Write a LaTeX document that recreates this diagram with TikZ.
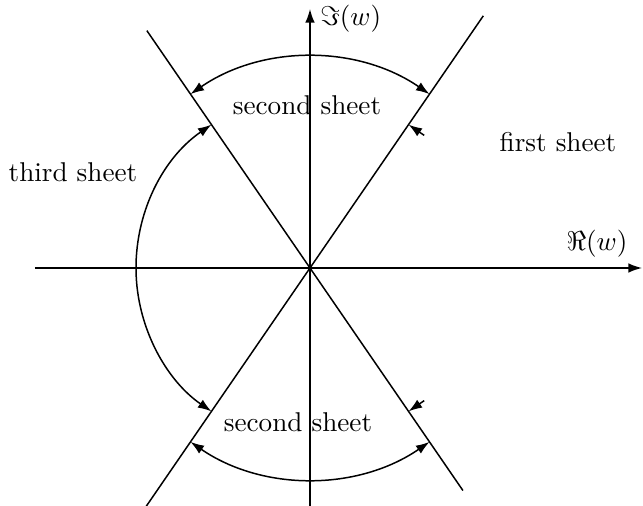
\documentclass[tikz,border=0pt]{standalone}
\usepackage{amsmath,amssymb}
\usetikzlibrary{arrows.meta,calc}

\begin{document}
\begin{tikzpicture}[x=0.368pt, y=0.368pt, font=\normalsize,
  ln/.style={line width=0.55pt, black},
  arr/.style={ln, -{Latex[length=5pt,width=3.5pt]}},
  darr/.style={ln, {Latex[length=5pt,width=3.5pt]}-{Latex[length=5pt,width=3.5pt]}}]
\useasboundingbox (-310,-238) rectangle (333,268);
\coordinate (O) at (0,0);
% axes
\coordinate (xl) at (-275,0);
\coordinate (xr) at (332,0);
\coordinate (yb) at (0,-240);
\coordinate (yt) at (0,259);
\draw[arr] (xl) -- (xr);
\draw[arr] (yb) -- (yt);
\node[anchor=west, inner sep=1pt] (im) at (7,249) {$\Im(w)$};
\node (re) at (287,24) {$\Re(w)$};
% cut lines
\coordinate (ul) at (124.5:288);
\coordinate (lr) at (-55.5:270);
\coordinate (ur) at (55.5:306);
\coordinate (ll) at (235.5:295);
\draw[ln] (ul) -- (lr);
\draw[ln] (ur) -- (ll);
% arcs
\draw[darr] (55.5:211) arc[start angle=55.5, end angle=124.5, radius=211];
\draw[darr] (124.5:174) arc[start angle=124.5, end angle=235.5, radius=174];
\draw[darr] (235.5:211) arc[start angle=235.5, end angle=304.5, radius=211];
% short arrows
\coordinate (pu) at (55.5:174);
\coordinate (pd) at (-55.5:174);
\draw[arr] ($(pu)+(-34.5:19)$) -- (pu);
\draw[arr] ($(pd)+(34.5:19)$) -- (pd);
% labels
\node (s2t) at (-3,163) {second sheet};
\node (s1) at (248,126) {first sheet};
\node (s3) at (-237,96) {third sheet};
\node (s2b) at (-12,-154) {second sheet};
\end{tikzpicture}
\end{document}
